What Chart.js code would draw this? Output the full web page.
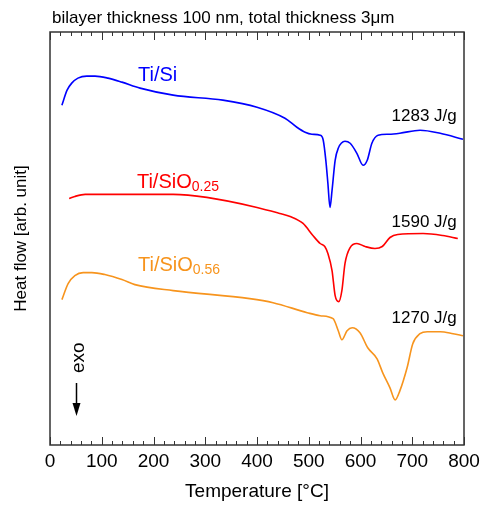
<!DOCTYPE html>
<html lang="en">
<head>
  <meta charset="UTF-8">
  <title>DSC - Ti/Si multilayers</title>
  <script src="https://cdn.jsdelivr.net/npm/chart.js"></script>
  <style>
    body { margin: 0; background: #fff; }
    canvas { display: block; }
  </style>
</head>
<body>
  <canvas id="graficoDSC" width="485" height="508"></canvas>

  <script>
    // temperatures (°C) and heat flow (arb. units, offset per curve)
    const tempSi = [23, 33, 42, 54, 71, 87, 112, 139, 174, 238, 334, 400, 454, 477, 493, 506, 522, 528, 533, 537, 541, 545, 551, 557, 570, 580, 593, 605, 613, 622, 634, 655, 676, 715, 754, 798];
    const heatSi = [339, 354, 361, 366, 368, 368, 366, 362, 356, 349, 344, 337, 326, 317, 312, 310, 309, 304, 284, 261, 237, 254, 284, 296, 303, 301, 291, 279, 284, 301, 309, 310, 311, 314, 311, 305];

    const tempSiO25 = [37, 48, 68, 106, 164, 238, 303, 400, 444, 464, 489, 508, 522, 531, 537, 545, 551, 558, 564, 570, 580, 593, 609, 628, 642, 657, 672, 721, 759, 788];
    const heatSiO25 = [246, 248, 250, 250, 250, 250, 247, 237, 231, 228, 221, 209, 201, 198, 191, 174, 149, 143, 154, 181, 197, 201, 198, 196, 198, 207, 210, 211, 209, 206];

    const tempSiO56 = [23, 35, 48, 64, 81, 106, 139, 164, 238, 386, 431, 497, 522, 547, 557, 564, 574, 584, 599, 614, 632, 643, 657, 667, 676, 690, 701, 715, 729, 754, 779, 798];
    const heatSiO56 = [145, 161, 169, 172, 172, 170, 165, 160, 154, 146, 142, 132, 129, 126, 114, 105, 114, 117, 112, 97, 86, 72, 57, 45, 54, 77, 101, 111, 113, 113, 111, 109];

    const nomes = ['Ti/Si', 'Ti/SiO', 'Ti/SiO'];
    const subscritos = ['', '0.25', '0.56'];
    const entalpias = ['1283 J/g', '1590 J/g', '1270 J/g'];
    const cores = ['#0000ff', '#ff0000', '#f7941d'];

    const FONTE = 'Liberation Sans, Arial, Helvetica, sans-serif';
    Chart.defaults.font.family = FONTE;
    Chart.defaults.color = '#000';

    function pontos(xs, ys) {
      return xs.map((t, i) => ({ x: t, y: ys[i] }));
    }

    // frame, inner ticks, labels and the exo arrow
    const decoracao = {
      id: 'decoracao',
      afterDraw(chart) {
        const { ctx, chartArea: a, scales: { x, y } } = chart;
        ctx.save();

        ctx.strokeStyle = '#333';
        ctx.lineWidth = 1.5;
        ctx.strokeRect(a.left, a.top, a.width, a.height);

        ctx.lineWidth = 1;
        for (let t = 0; t <= 800; t += 20) {
          const px = Math.round(x.getPixelForValue(t)) + 0.5;
          const len = t % 100 === 0 ? 8 : 4;
          ctx.beginPath();
          ctx.moveTo(px, a.bottom);
          ctx.lineTo(px, a.bottom - len);
          ctx.moveTo(px, a.top);
          ctx.lineTo(px, a.top + len);
          ctx.stroke();
        }

        // title
        ctx.fillStyle = '#000';
        ctx.textBaseline = 'alphabetic';
        ctx.textAlign = 'left';
        ctx.font = '17px ' + FONTE;
        ctx.fillText('bilayer thickness 100 nm, total thickness 3μm', 52, 23);

        // curve names
        const posNomes = [[170, 363], [168, 256], [170, 174]];
        nomes.forEach((n, i) => {
          const px = x.getPixelForValue(posNomes[i][0]);
          const py = y.getPixelForValue(posNomes[i][1]);
          ctx.fillStyle = cores[i];
          ctx.font = '20px ' + FONTE;
          ctx.fillText(n, px, py);
          if (subscritos[i]) {
            const w = ctx.measureText(n).width;
            ctx.font = '14px ' + FONTE;
            ctx.fillText(subscritos[i], px + w, py + 3);
          }
        });

        // enthalpies
        const posEnt = [323, 217, 122];
        ctx.fillStyle = '#000';
        ctx.textAlign = 'right';
        ctx.font = '17px ' + FONTE;
        entalpias.forEach((e, i) => {
          ctx.fillText(e, x.getPixelForValue(786), y.getPixelForValue(posEnt[i]));
        });

        // exo arrow
        const ax = Math.round(x.getPixelForValue(50)) + 0.5;
        ctx.save();
        ctx.translate(ax + 7, 373);
        ctx.rotate(-Math.PI / 2);
        ctx.textAlign = 'left';
        ctx.font = '19px ' + FONTE;
        ctx.fillText('exo', 0, 0);
        ctx.restore();

        ctx.strokeStyle = '#000';
        ctx.lineWidth = 1.5;
        ctx.beginPath();
        ctx.moveTo(ax, 383);
        ctx.lineTo(ax, 406);
        ctx.stroke();
        ctx.beginPath();
        ctx.moveTo(ax - 4, 403);
        ctx.lineTo(ax + 4, 403);
        ctx.lineTo(ax, 416);
        ctx.closePath();
        ctx.fill();

        ctx.restore();
      }
    };

    const ctx = document.getElementById('graficoDSC').getContext('2d');
    new Chart(ctx, {
      type: 'scatter',
      data: {
        datasets: [
          { label: 'Ti/Si', data: pontos(tempSi, heatSi) },
          { label: 'Ti/SiO0.25', data: pontos(tempSiO25, heatSiO25) },
          { label: 'Ti/SiO0.56', data: pontos(tempSiO56, heatSiO56) }
        ].map((d, i) => Object.assign(d, {
          showLine: true,
          borderColor: cores[i],
          borderWidth: 1.6,
          pointRadius: 0,
          cubicInterpolationMode: 'monotone'
        }))
      },
      options: {
        responsive: false,
        animation: false,
        layout: { padding: { top: 32, right: 21, left: 0, bottom: 0 } },
        plugins: {
          legend: { display: false },
          tooltip: { enabled: false }
        },
        scales: {
          x: {
            type: 'linear',
            min: 0,
            max: 800,
            grid: { display: false, drawTicks: false },
            border: { display: false },
            ticks: { stepSize: 100, padding: 5, font: { size: 19 }, color: '#000' },
            title: {
              display: true,
              text: 'Temperature [°C]',
              font: { size: 19 },
              color: '#000',
              padding: { top: 2.4, bottom: 5 }
            }
          },
          y: {
            min: 0,
            max: 412,
            grid: { display: false, drawTicks: false },
            border: { display: false },
            ticks: { display: false },
            title: {
              display: true,
              text: 'Heat flow [arb. unit]',
              font: { size: 17 },
              color: '#000',
              padding: { top: 10.8, bottom: 18.8 }
            }
          }
        }
      },
      plugins: [decoracao]
    });
  </script>
</body>
</html>
